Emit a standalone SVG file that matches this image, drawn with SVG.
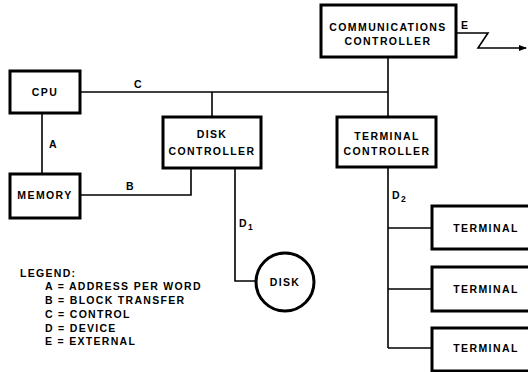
<svg xmlns="http://www.w3.org/2000/svg" width="528" height="372" viewBox="0 0 528 372">
<defs>
<style>
.box{fill:#fff;stroke:#000;stroke-width:3}
.ln{fill:none;stroke:#000;stroke-width:1.6}
text{font-family:"Liberation Sans",Arial,sans-serif;font-weight:bold;font-size:10.5px;letter-spacing:1.4px;fill:#000}
.c{text-anchor:middle}
.lg{font-size:10.5px;letter-spacing:1.3px}
</style>
<marker id="ah" markerWidth="8" markerHeight="6" refX="7" refY="3" orient="auto" markerUnits="userSpaceOnUse">
<path d="M0,0 L8,3 L0,6 Z" fill="#000"/>
</marker>
</defs>
<rect width="528" height="372" fill="#fff"/>
<g id="connectors">
<path class="ln" d="M80,92 H388"/>
<path class="ln" d="M212,92 V117"/>
<path class="ln" d="M388,57 V117"/>
<path class="ln" d="M42,113 V174"/>
<path class="ln" d="M80,195 H191 V168"/>
<path class="ln" d="M235,168 V281 H255"/>
<path class="ln" d="M388,167 V348"/>
<path class="ln" d="M388,228 H432"/>
<path class="ln" d="M388,289 H432"/>
<path class="ln" d="M388,348 H432"/>
<path class="ln" d="M456,33 H488 L478,48 H526" marker-end="url(#ah)"/>
<text x="134" y="88">C</text>
<text x="49" y="148">A</text>
<text x="126" y="190">B</text>
<text x="239" y="227">D<tspan font-size="8.5" dy="3">1</tspan></text>
<text x="392" y="199">D<tspan font-size="8.5" dy="3">2</tspan></text>
<text x="461" y="29">E</text>
</g>
<g id="cpu"><rect class="box" x="10" y="71" width="70" height="42"/><text class="c" x="45" y="96">CPU</text></g>
<g id="memory"><rect class="box" x="10" y="174" width="70" height="44"/><text class="c" x="45" y="199">MEMORY</text></g>
<g id="disk-controller"><rect class="box" x="163" y="117" width="98" height="51"/><text class="c" x="212" y="138">DISK</text><text class="c" x="212" y="155">CONTROLLER</text></g>
<g id="comm-controller"><rect class="box" x="321" y="5" width="135" height="52"/><text class="c" x="388" y="31">COMMUNICATIONS</text><text class="c" x="388" y="45">CONTROLLER</text></g>
<g id="terminal-controller"><rect class="box" x="337" y="117" width="99" height="50"/><text class="c" x="387" y="140">TERMINAL</text><text class="c" x="387" y="155">CONTROLLER</text></g>
<g id="disk"><circle cx="285" cy="282" r="29" fill="#fff" stroke="#000" stroke-width="3"/><text class="c" x="285" y="286">DISK</text></g>
<g id="terminal1"><rect class="box" x="432" y="206" width="110" height="43"/><text class="c" x="486" y="232">TERMINAL</text></g>
<g id="terminal2"><rect class="box" x="432" y="267" width="110" height="44"/><text class="c" x="486" y="293">TERMINAL</text></g>
<g id="terminal3"><rect class="box" x="432" y="328" width="110" height="43"/><text class="c" x="486" y="352">TERMINAL</text></g>
<g id="legend">
<text class="lg" x="20" y="277">LEGEND:</text>
<text class="lg" x="45" y="290">A = ADDRESS PER WORD</text>
<text class="lg" x="45" y="304">B = BLOCK TRANSFER</text>
<text class="lg" x="45" y="318">C = CONTROL</text>
<text class="lg" x="45" y="332">D = DEVICE</text>
<text class="lg" x="45" y="345">E = EXTERNAL</text>
</g>
</svg>
